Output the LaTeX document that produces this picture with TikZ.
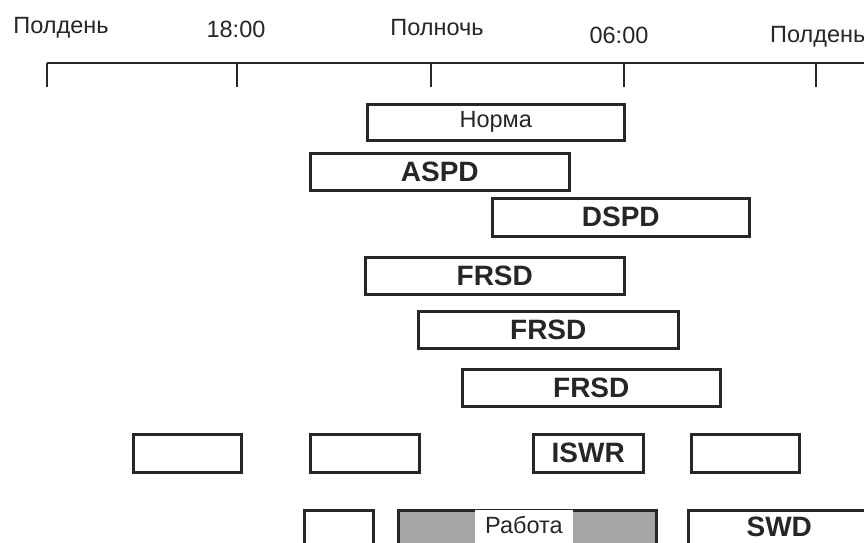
\documentclass[tikz,border=0pt]{standalone}
\usepackage{fontspec}
\setmainfont{Liberation Sans}
\begin{document}
\begin{tikzpicture}[x=1pt,y=-1pt,
  bar/.style={draw=black!85, line width=2.5pt, rectangle, inner sep=0pt, anchor=north west, text=black!85},
  lbl/.style={font=\fontsize{28}{32}\selectfont\bfseries},
  reg/.style={font=\fontsize{23.5}{28}\selectfont},
  tlab/.style={font=\fontsize{23.5}{28}\selectfont, text=black!85, inner sep=0pt, anchor=base},
  axis/.style={draw=black!85, line width=2pt},
  tick/.style={draw=black!85, line width=2.6pt}]
\clip (0,0) rectangle (864,542);
\fill[white] (0,0) rectangle (864,542);
% time axis
\coordinate (t0) at (47,63);
\coordinate (t1) at (237,63);
\coordinate (t2) at (431,63);
\coordinate (t3) at (624,63);
\coordinate (t4) at (816,63);
\coordinate (tend) at (866,63);
\coordinate (t0b) at (47,87);
\coordinate (t1b) at (237,87);
\coordinate (t2b) at (431,87);
\coordinate (t3b) at (624,87);
\coordinate (t4b) at (816,87);
\draw[axis] (t0) -- (tend);
\foreach \i in {0,...,4} { \draw[tick] (t\i) -- (t\i b); }
\node[tlab] (l0) at (61,33) {Полдень};
\node[tlab] (l1) at (236,37) {18:00};
\node[tlab] (l2) at (437,35) {Полночь};
\node[tlab] (l3) at (619,43) {06:00};
\node[tlab, anchor=base west] (l4) at (770,42) {Полдень};
% bars
\node[bar, reg, minimum width=257, minimum height=36] (norma) at (366,103) {Норма};
\node[bar, lbl, minimum width=259, minimum height=37] (aspd) at (309,152) {ASPD};
\node[bar, lbl, minimum width=257, minimum height=38] (dspd) at (491,197) {DSPD};
\node[bar, lbl, minimum width=259, minimum height=37] (frsd1) at (364,256) {FRSD};
\node[bar, lbl, minimum width=260, minimum height=37] (frsd2) at (417,310) {FRSD};
\node[bar, lbl, minimum width=258, minimum height=37] (frsd3) at (461,368) {FRSD};
% ISWR row
\node[bar, minimum width=108, minimum height=38] (iswr1) at (132,433) {};
\node[bar, minimum width=109, minimum height=38] (iswr2) at (309,433) {};
\node[bar, lbl, minimum width=110, minimum height=38] (iswr) at (532,433) {ISWR};
\node[bar, minimum width=108, minimum height=38] (iswr4) at (690,433) {};
% SWD row
\node[bar, minimum width=69, minimum height=37] (swd1) at (303,509) {};
\node[bar, fill=black!35, minimum width=258, minimum height=37] (work) at (397,509) {};
\node[reg, fill=white, inner sep=0pt, minimum width=98, minimum height=34, text depth=4pt, text=black!85] (worklbl) at (524,527) {Работа};
\node[bar, lbl, minimum width=182, minimum height=37, text depth=5pt] (swd) at (687,509) {SWD};
\end{tikzpicture}
\end{document}
